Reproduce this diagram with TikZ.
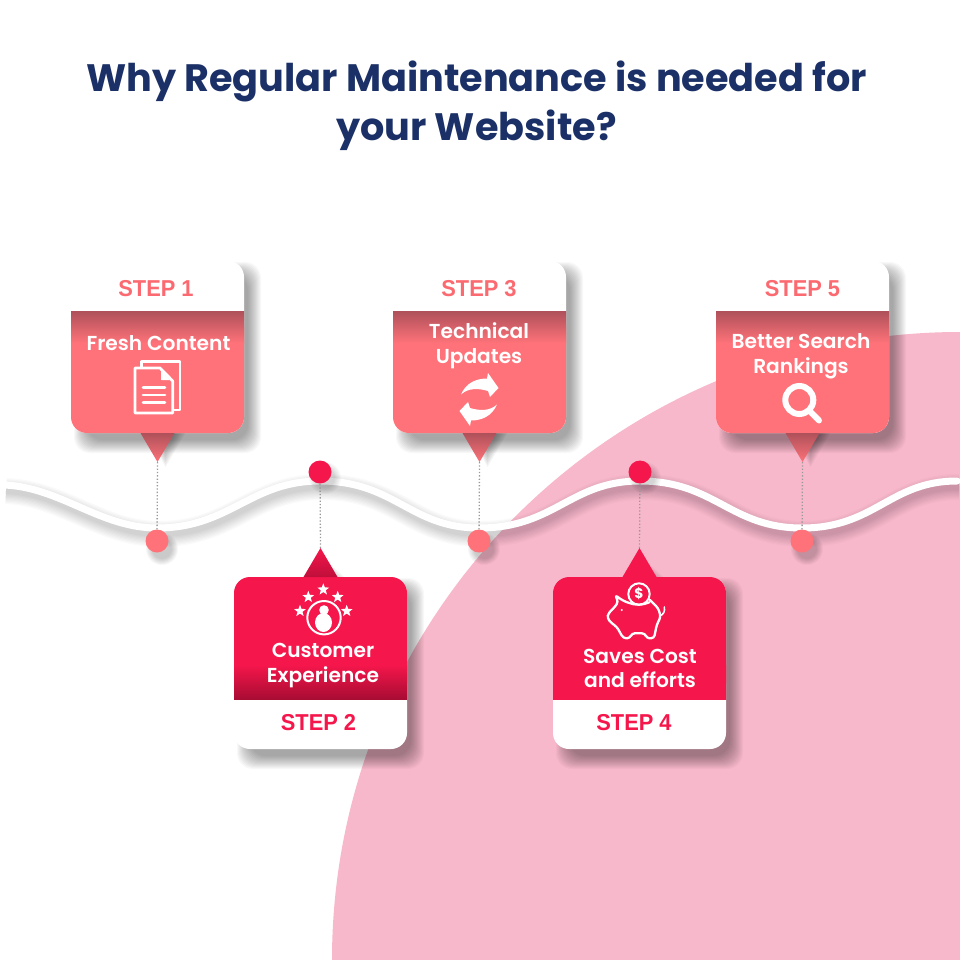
\documentclass[tikz,border=0pt]{standalone}
\usepackage{fontspec}
\setmainfont{Poppins}
\newfontfamily\popmed{Poppins SemiBold}
\newfontfamily\stepfont{Liberation Sans}
\usetikzlibrary{shapes.geometric}
\definecolor{navy}{HTML}{1B3067}
\definecolor{coral}{HTML}{FF7279}
\definecolor{coraltext}{HTML}{FB6A70}
\definecolor{coraldark}{HTML}{AE515A}
\definecolor{crimson}{HTML}{F5164B}
\definecolor{crimsondark}{HTML}{A80C33}
\definecolor{blush}{HTML}{F8B8CB}
\tikzset{
  titletext/.style={font=\fontsize{38.2}{49}\selectfont\bfseries,text=navy,align=center,inner sep=0},
  steplabel/.style={font=\stepfont\fontsize{23}{26}\selectfont\bfseries,inner sep=0,xscale=.95},
  cardlabel/.style={font=\popmed\fontsize{20.2}{24.7}\selectfont,text=white,align=center,inner sep=0},
  cardbox/.style={draw=none,fill=white,rounded corners=16,minimum width=173,minimum height=172,inner sep=0},
  leader/.style={draw=black!40,line width=1.3,dash pattern=on 1.3 off 2},
  marker/.style={circle,minimum size=23,inner sep=0},
  iconline/.style={draw=white,line width=2.8,line join=round,line cap=round},
  iconstar/.style={star,star points=5,star point ratio=2.4,fill=white,minimum size=12.5,inner sep=0},
}
\newcommand{\cardshadow}{%
  \foreach \g in {0,...,13}{
    \fill[black,opacity=.028,rounded corners=16] (-86.5+\g+3,-86+\g+1) rectangle (86.5-\g+17,86-\g+20);
  }}
% top card: #1 id, #2 centre x, #3 step text x offset, #4 step text
\newcommand{\topcard}[4]{%
  \begin{scope}[shift={(#2,347)}]
    \cardshadow
    \foreach \g in {0,...,6}{
      \fill[black,opacity=.045] (-10,86) -- (28-1.5*\g,86) -- (8,120-2.5*\g) -- cycle;
    }
    \node[cardbox] (card#1) at (0,0) {};
    \fill[coral,rounded corners=16] (-86.5,-36) -- (-86.5,86) -- (86.5,86) -- (86.5,-36) -- cycle;
    \fill[coral] (-86.5,-36) rectangle (86.5,-20);
    \shade[top color=coraldark,bottom color=coral] (-86.5,-36) rectangle (86.5,-4);
    \shade[top color=coraldark,bottom color=coral] (-17,86) -- (17,86) -- (0,115) -- cycle;
    \coordinate (tip#1) at (0,115);
    \node[steplabel,text=coraltext] (step#1) at (#3,-58) {#4};
  \end{scope}}
% bottom card: #1 id, #2 centre x, #3 dark colour, #4 step text x offset, #5 step text
\newcommand{\bottomcard}[5]{%
  \begin{scope}[shift={(#2,663)}]
    \cardshadow
    \foreach \g in {0,...,5}{
      \fill[black,opacity=.03] (0,-108+2*\g) -- (24-1.5*\g,-86) -- (4,-86) -- cycle;
    }
    \node[cardbox] (card#1) at (0,0) {};
    \fill[crimson,rounded corners=16] (-86.5,36) -- (-86.5,-86) -- (86.5,-86) -- (86.5,36) -- cycle;
    \fill[crimson] (-86.5,36) rectangle (86.5,20);
    \shade[top color=crimson,bottom color=#3] (-86.5,2) rectangle (86.5,36);
    \shade[top color=crimson,bottom color=#3!70!crimson] (-17,-86) -- (17,-86) -- (0,-115) -- cycle;
    \coordinate (tip#1) at (0,-115);
    \node[steplabel,text=crimson] (step#1) at (#4,60) {#5};
  \end{scope}}
\begin{document}
\begin{tikzpicture}[x=1pt,y=-1pt]
\useasboundingbox (0,0) rectangle (960,960);
\fill[white] (0,0) rectangle (960,960);
\begin{scope}
  \clip (0,0) rectangle (960,960);
  \fill[blush] (960,960) circle (628);
\end{scope}
\node[titletext] (title) at (476.5,106) {Why Regular Maintenance is needed for\\your Website?};

% wave
\def\wavepath{(4,485) .. controls (60,487) and (100,528) .. (157,528)
  .. controls (230,528) and (250,481) .. (320,481)
  .. controls (395,481) and (410,528) .. (479,528)
  .. controls (555,528) and (570,481) .. (640,481)
  .. controls (715,481) and (730,528) .. (802,528)
  .. controls (875,528) and (890,481) .. (957,481)}
\begin{scope}[shift={(2,6)}]
  \foreach \g in {0,...,8}{
    \draw[black,opacity=.018,line width={6+2.5*\g}] \wavepath;
  }
\end{scope}
\draw[white,line width=7,line cap=round] \wavepath;

% markers (shadow first)
\foreach \x in {157,479,802}{
  \foreach \g in {0,...,6}{\fill[black,opacity=.03] (\x+5,549) circle ({16-\g});}
}
\foreach \x in {320,640}{
  \foreach \g in {0,...,6}{\fill[black,opacity=.025] (\x+5,478) circle ({16-\g});}
}
\node[marker,fill=coral] (dotA) at (157,541) {};
\node[marker,fill=crimson] (dotB) at (320,472) {};
\node[marker,fill=coral] (dotC) at (479,541) {};
\node[marker,fill=crimson] (dotD) at (640,472) {};
\node[marker,fill=coral] (dotE) at (802,541) {};

% cards
\topcard{A}{157.5}{-1.5}{STEP 1}
\topcard{C}{479.5}{-0.5}{STEP 3}
\topcard{E}{802.5}{0}{STEP 5}
\bottomcard{B}{320.5}{crimsondark}{-2}{STEP 2}
\bottomcard{D}{639.5}{crimson}{-5.5}{STEP 4}

% leaders
\draw[leader] (tipA) -- (dotA);
\draw[leader] (tipC) -- (dotC);
\draw[leader] (tipE) -- (dotE);
\draw[leader] (tipB) -- (dotB);
\draw[leader] (tipD) -- (dotD);

% labels
\node[cardlabel] (txtA) at (158.5,343) {Fresh Content};
\node[cardlabel] (txtC) at (479,345.5) {Technical\\Updates};
\node[cardlabel] (txtE) at (801,356.5) {Better Search\\Rankings};
\node[cardlabel] (txtB) at (323,665.5) {Customer\\Experience};
\node[cardlabel] (txtD) at (640,668.5) {Saves Cost\\and efforts};

% document icon
\draw[iconline] (141.5,367) -- (141.5,361.5) -- (180,361.5) -- (180,410) -- (173,410);
\draw[iconline,fill=coral] (135,368) -- (160,368) -- (172.7,381) -- (172.7,413) -- (135,413) -- cycle;
\fill[white] (161,370) -- (170,380) -- (161,380) -- cycle;
\draw[iconline] (143,387.3) -- (165,387.3) (143,395) -- (165,395) (143,402.7) -- (165,402.7);

% refresh icon
\fill[white] (461,394.5) .. controls (466,383) and (476,378.5) .. (487,378.5) -- (488,373) -- (498.5,388) -- (490,397) -- (488,391) .. controls (478,388) and (468,388) .. (461,394.5) -- cycle;
\fill[white,rotate around={180:(479,399.5)}] (461,394.5) .. controls (466,383) and (476,378.5) .. (487,378.5) -- (488,373) -- (498.5,388) -- (490,397) -- (488,391) .. controls (478,388) and (468,388) .. (461,394.5) -- cycle;

% magnifier icon
\draw[white,line width=6] (799.3,400) circle (14);
\draw[white,line width=6,line cap=round] (810.5,412) -- (819,420.5);

% customer icon
\draw[white,line width=2] (324,617.7) circle (16.7);
\fill[white] (324,610) circle (4.8);
\fill[white] (323.5,622.5) ellipse (8.5 and 9.5);
\node[iconstar] (starA) at (323.3,589.5) {};
\node[iconstar] (starB) at (308.3,597) {};
\node[iconstar] (starC) at (337.7,597) {};
\node[iconstar] (starD) at (300,611) {};
\node[iconstar] (starE) at (346.7,611) {};

% piggy icon
\draw[white,line width=2.3,line join=round,line cap=round,rounded corners=3]
  (628.3,602.7) -- (623,600.7) -- (615,595) -- (618.3,601.7) -- (615,606.7) -- (611.7,610)
  -- (608.3,613.3) -- (607.3,618.3) -- (611.7,623.3) -- (616.7,626.7) -- (623.3,638.3)
  -- (630,638.3) -- (631.7,633.3) -- (645,633.3) -- (646.7,638.3) -- (654,638.3)
  -- (656.7,625) -- (660.7,616.7) -- (658.3,608.3) -- (650,600);
\draw[white,line width=1.6,line cap=round] (660,616) .. controls (664,614) and (665,611) .. (664.3,607);
\draw[white,line width=2.2] (628.3,602.7) .. controls (635,605.5) and (642,605.5) .. (650,602);
\fill[white] (621.7,610) circle (1.2);
\draw[white,line width=2] (639,594) circle (10.7);
\node[font=\fontsize{14}{14}\selectfont\bfseries,text=white,inner sep=0] (dollar) at (639,594) {\$};
\end{tikzpicture}
\end{document}
